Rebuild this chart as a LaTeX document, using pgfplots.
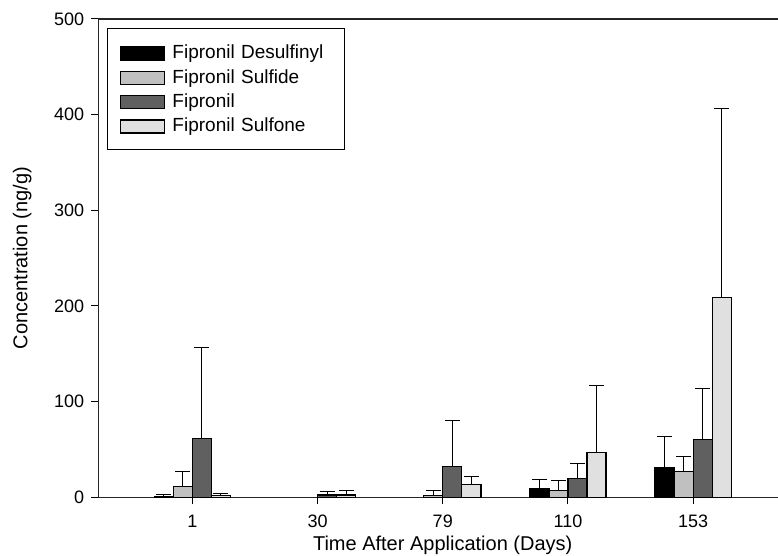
\documentclass[border=0pt]{standalone}
\usepackage{fontspec}
\setmainfont{Liberation Sans}
\usepackage{pgfplots}
\pgfplotsset{compat=1.18}
\definecolor{sulfide}{HTML}{C0C0C0}
\definecolor{fipronil}{HTML}{606060}
\definecolor{sulfone}{HTML}{E0E0E0}
\begin{document}
\begin{tikzpicture}
\begin{axis}[
  name=ax,
  scale only axis,
  width=344.4pt, height=239.15pt,
  xmin=-0.7505, xmax=4.7495,
  ymin=0, ymax=500,
  ytick={0,100,...,500},
  xtick={0,1,2,3,4},
  xticklabels={1,30,79,110,153},
  xtick pos=bottom, ytick pos=left,
  tick align=outside,
  major tick length=3.5pt,
  tick style={black, line width=0.5pt},
  axis line style={black!85, line width=0.6pt},
  /pgf/number format/assume math mode=true,
  tick label style={font=\fontsize{9}{10}\selectfont},
  xticklabel style={yshift=-2pt},
  xlabel={Time After Application (Days)},
  ylabel={Concentration (ng/g)},
  label style={font=\fontsize{11.2}{13}\selectfont},
  every axis x label/.style={at={(axis description cs:0.5,0)}, anchor=center, yshift=-23.85pt},
  every axis y label/.style={at={(axis description cs:-0.1103,0.5)}, anchor=center, rotate=90},
  ybar=0pt, bar width=0.152,
  every axis plot post/.append style={draw=black, line width=0.7pt,
    /pgfplots/legend image code/.code={%
      \path[fill=none, draw=none] (0pt,-5.6pt) rectangle (32.65pt,6.6pt);
      \draw[##1, line width=0.65pt] (6.65pt,-3.25pt) rectangle (28.65pt,3.25pt);}},
  legend style={at={(0,1)}, anchor=north west, xshift=4.2pt, yshift=-4.35pt,
    draw=black, line width=0.5pt, font=\fontsize{9.5}{11}\selectfont,
    inner xsep=0pt, inner ysep=6pt, row sep=0pt,
    nodes={inner sep=0pt, text width=86pt, align=left},
    cells={anchor=west}},
  error bars/y dir=plus,
  error bars/y explicit,
  error bars/error bar style={black, line width=0.5pt},
  error bars/error mark options={rotate=90, mark size=3.75pt, black, line width=0.5pt},
]
% Fipronil Desulfinyl
\addplot[fill=black] coordinates {(0,0.5) +- (0,2.5) (3,8.7) +- (0,10.1) (4,30.9) +- (0,32.4)};
% Fipronil Sulfide
\addplot[fill=sulfide] coordinates {(0,11.1) +- (0,15.7) (2,2.0) +- (0,4.8) (3,6.9) +- (0,10.8) (4,26.7) +- (0,15.7)};
% Fipronil
\addplot[fill=fipronil] coordinates {(0,61.7) +- (0,94.7) (1,2.5) +- (0,3.2) (2,32.0) +- (0,48.0) (3,19.8) +- (0,16.0) (4,60.1) +- (0,53.3)};
% Fipronil Sulfone
\addplot[fill=sulfone] coordinates {(0,1.7) +- (0,2.5) (1,2.5) +- (0,4.6) (2,13.6) +- (0,7.9) (3,47.0) +- (0,69.5) (4,208.8) +- (0,197.9)};
\legend{Fipronil Desulfinyl, Fipronil Sulfide, Fipronil, Fipronil Sulfone}
\end{axis}
\pgfresetboundingbox
\path[use as bounding box] ([xshift=-49.15pt,yshift=-29.35pt]ax.south west) rectangle ([xshift=339.85pt,yshift=9.5pt]ax.north west);
\end{tikzpicture}
\end{document}
